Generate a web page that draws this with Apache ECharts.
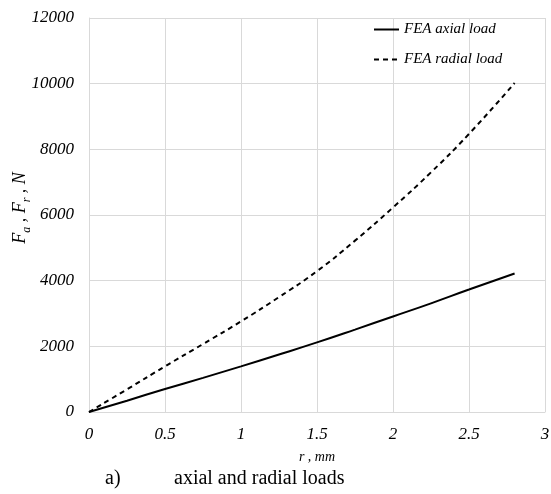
<!DOCTYPE html>
<html>
<head>
<meta charset="utf-8">
<script src="https://cdn.jsdelivr.net/npm/echarts@6/dist/echarts.min.js"></script>
<style>
  html, body { margin: 0; padding: 0; background: #fff; }
  #main { width: 551px; height: 494px; }
</style>
</head>
<body>
<div id="main"></div>
<script>
// r, mm
var rValues = [0, 0.25, 0.5, 0.75, 1, 1.25, 1.5, 1.75, 2, 2.25, 2.5, 2.8];
// FEA axial load, N
var axialLoad = [0, 345, 700, 1040, 1390, 1750, 2120, 2510, 2910, 3310, 3730, 4220];
// FEA radial load, N
var radialLoad = [0, 690, 1390, 2070, 2760, 3500, 4290, 5220, 6230, 7300, 8470, 10020];

var seriesNames = ['FEA axial load', 'FEA radial load'];

function pairs(ys) {
	return rValues.map(function (r, i) { return [r, ys[i]]; });
}

var serif = '"Liberation Serif", "DejaVu Serif", serif';
var gridColor = '#d9d9d9';

var myChart = echarts.init(document.getElementById('main'));

var option = {
	animation: false,
	title: [
		{ text: 'a)', left: 100, top: 464, textStyle: { fontFamily: serif, fontSize: 20, fontWeight: 'normal', color: '#000' } },
		{ text: 'axial and radial loads', left: 169, top: 464, textStyle: { fontFamily: serif, fontSize: 20, fontWeight: 'normal', color: '#000' } }
	],
	legend: {
		orient: 'vertical',
		left: 368,
		top: 17,
		itemWidth: 25,
		itemHeight: 14,
		itemGap: 15,
		itemStyle: { opacity: 0 },
		textStyle: { fontFamily: serif, fontStyle: 'italic', fontSize: 15, color: '#000' },
		data: seriesNames
	},
	grid: { left: 89, right: 6, top: 18, bottom: 82, containLabel: false, outerBoundsMode: 'none' },
	xAxis: {
		type: 'value',
		min: 0,
		max: 3,
		interval: 0.5,
		name: 'r , mm',
		nameLocation: 'middle',
		nameGap: 38,
		nameMoveOverlap: false,
		nameTextStyle: { fontFamily: serif, fontStyle: 'italic', fontSize: 14, color: '#000' },
		axisLine: { lineStyle: { color: gridColor } },
		axisTick: { show: false },
		axisLabel: { fontFamily: serif, fontStyle: 'italic', fontSize: 17, color: '#000', margin: 14 },
		splitLine: { show: true, lineStyle: { color: gridColor } }
	},
	yAxis: {
		type: 'value',
		min: 0,
		max: 12000,
		interval: 2000,
		name: '{i|F}{s|a}{i| , F}{s|r}{i| , N}',
		nameLocation: 'middle',
		nameRotate: 90,
		nameGap: 56,
		nameMoveOverlap: false,
		nameTextStyle: {
			fontFamily: serif,
			color: '#000',
			padding: [0, 0, 0, 14],
			rich: {
				i: { fontFamily: serif, fontStyle: 'italic', fontSize: 18, color: '#000', lineHeight: 26, verticalAlign: 'middle' },
				s: { fontFamily: serif, fontStyle: 'italic', fontSize: 12, color: '#000', lineHeight: 26, verticalAlign: 'bottom' }
			}
		},
		axisLine: { show: true, lineStyle: { color: gridColor } },
		axisTick: { show: false },
		axisLabel: {
			fontFamily: serif, fontStyle: 'italic', fontSize: 17, color: '#000', margin: 15,
			formatter: function (v) { return String(v); }
		},
		splitLine: { show: true, lineStyle: { color: gridColor } }
	},
	series: [
		{
			name: seriesNames[0],
			type: 'line',
			smooth: true,
			symbol: 'none',
			data: pairs(axialLoad),
			lineStyle: { color: '#000', width: 2, type: 'solid' },
			itemStyle: { color: '#000' }
		},
		{
			name: seriesNames[1],
			type: 'line',
			smooth: true,
			symbol: 'none',
			data: pairs(radialLoad),
			lineStyle: { color: '#000', width: 2, type: [5, 4] },
			itemStyle: { color: '#000' }
		}
	]
};

myChart.setOption(option);
</script>
</body>
</html>
